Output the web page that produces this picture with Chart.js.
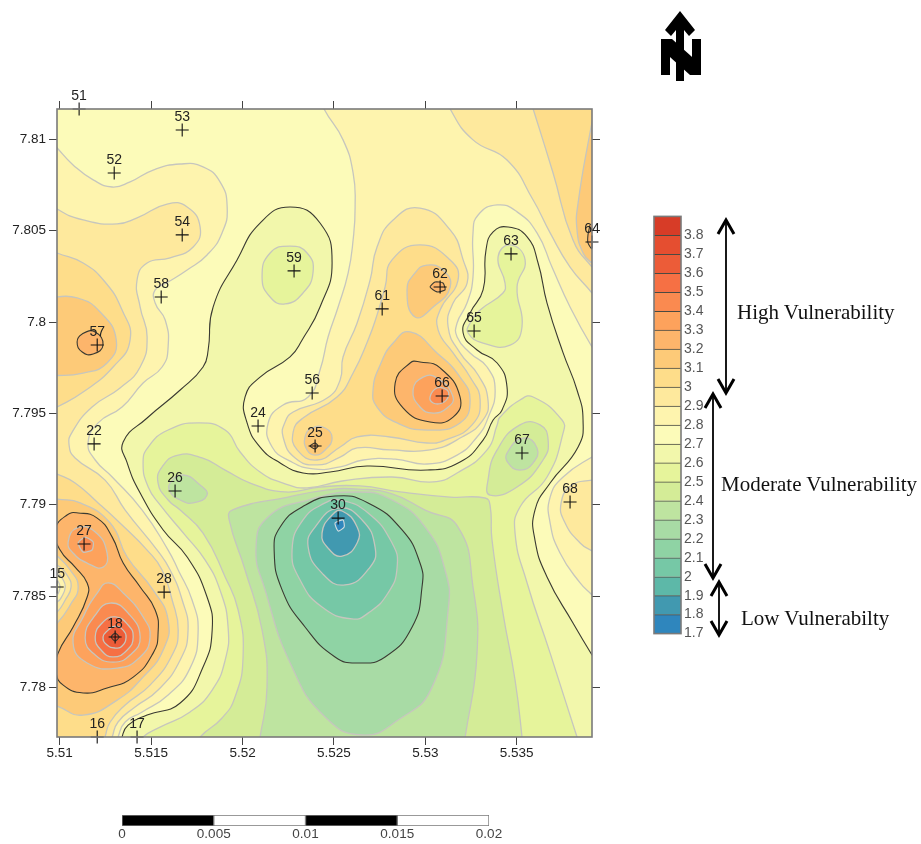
<!DOCTYPE html>
<html>
<head>
<meta charset="utf-8">
<title>Vulnerability map</title>
<script src="https://cdn.jsdelivr.net/npm/chart.js@4"></script>
<style>
  html, body { margin: 0; padding: 0; background: #fff; width: 921px; height: 844px; overflow: hidden; }
  canvas, svg { position: absolute; }
  .note { position: absolute; font: 21px "Liberation Serif", serif; color: #111; white-space: nowrap; line-height: 24px; }
</style>
</head>
<body>
<canvas id="mapa" width="921" height="844" style="left:0;top:0"></canvas>
<canvas id="leyenda" width="75" height="440" style="left:653px;top:205px"></canvas>
<canvas id="escala" width="420" height="36" style="left:100px;top:808px"></canvas>

<svg width="921" height="844" style="left:0;top:0">
  <g stroke="#000" fill="none">
    <line x1="726" y1="220" x2="726" y2="393" stroke-width="1.8"/>
    <polyline points="718,234 726,220 734,234" stroke-width="3"/>
    <polyline points="718,379 726,393 734,379" stroke-width="3"/>
    <line x1="713" y1="394" x2="713" y2="578" stroke-width="1.8"/>
    <polyline points="705,408 713,394 721,408" stroke-width="3"/>
    <polyline points="705,564 713,578 721,564" stroke-width="3"/>
    <line x1="719" y1="582" x2="719" y2="635" stroke-width="1.8"/>
    <polyline points="711,596 719,582 727,596" stroke-width="3"/>
    <polyline points="711,621 719,635 727,621" stroke-width="3"/>
  </g>
  <g fill="#000">
    <polygon points="661,39 670,39 670,75 661,75"/>
    <polygon points="692,39 701,39 701,75 692,75"/>
    <polygon points="661,39 672,39 701,65 701,75 690,75 661,49"/>
    <polygon points="680,11 695,30 689,36 684,30 684,81 676,81 676,30 671,36 665,30"/>
  </g>
</svg>
<div class="note" style="left:737px;top:300px">High Vulnerability</div>
<div class="note" style="left:721px;top:472px">Moderate Vulnerability</div>
<div class="note" style="left:741px;top:606px">Low Vulnerabilty</div>

<script>
// Ejes
const xTicks = [5.51, 5.515, 5.52, 5.525, 5.53, 5.535];
const yTicks = [7.78, 7.785, 7.79, 7.795, 7.8, 7.805, 7.81];

// Puntos de muestreo
const stationIds = ['51','52','53','54','56','57','58','59','61','62','63','64','65','66','67','68','22','24','25','26','27','28','30','15','16','17','18'];
const stationLon = [5.51106,5.51298,5.5167,5.5167,5.52381,5.51205,5.51555,5.52282,5.52764,5.53081,5.53469,5.53912,5.53267,5.53092,5.53529,5.53792,5.51188,5.52085,5.52397,5.51631,5.51133,5.51571,5.52523,5.50986,5.51205,5.51423,5.51303];
const stationLat = [7.81166,7.80816,7.81051,7.80477,7.79612,7.79874,7.80137,7.8028,7.80072,7.80192,7.80373,7.80438,7.79951,7.79595,7.79283,7.79015,7.79333,7.79431,7.79322,7.79075,7.78785,7.78522,7.78927,7.7855,7.77729,7.77729,7.78276];

// Leyenda: limite inferior de cada clase y su color
const legendLow = [1.7,1.8,1.9,2,2.1,2.2,2.3,2.4,2.5,2.6,2.7,2.8,2.9,3,3.1,3.2,3.3,3.4,3.5,3.6,3.7,3.8];
const legendColors = ['#2f86bd','#4199b0','#5db8a8','#76c8a6','#8fd3a4','#a8dba5','#bee4a0','#d4ec97','#e6f49b','#f2f7ab','#fcfbb9','#fef4ae','#fee99d','#fedd8a','#fdca78','#fdb56b','#fda25c','#fa8a50','#f67044','#ec5c38','#e54e30','#d73c27'];
const legendTicks = [1.7,1.8,1.9,2,2.1,2.2,2.3,2.4,2.5,2.6,2.7,2.8,2.9,3,3.1,3.2,3.3,3.4,3.5,3.6,3.7,3.8];

// Barra de escala
const scaleStops = [0, 0.005, 0.01, 0.015, 0.02];

const centerW1 = [[5.52435,7.81216],[5.52446,7.81166],[5.5255,7.80997],[5.52605,7.80816],[5.52616,7.8063],[5.52605,7.80449],[5.52578,7.80269],[5.52523,7.80082],[5.52468,7.79918],[5.52424,7.79738],[5.52359,7.7959],[5.52222,7.79546],[5.5214,7.79447],[5.52162,7.79316],[5.5226,7.79239],[5.52386,7.79196],[5.52534,7.79207],[5.5266,7.79245],[5.52835,7.7925],[5.5301,7.79223],[5.53174,7.79272],[5.53283,7.79371],[5.53343,7.79475],[5.53382,7.79628],[5.53338,7.79754],[5.53245,7.79831],[5.53174,7.79918],[5.53174,7.79995],[5.53228,7.80104],[5.53261,7.80247],[5.53261,7.80488],[5.53289,7.80586],[5.53393,7.80641],[5.53502,7.80603],[5.53611,7.80488],[5.53693,7.80301],[5.53792,7.80082],[5.53912,7.79864],[5.53983,7.79765],[5.53983,7.81216]];
const cornerW2 = [[5.53136,7.81216],[5.53136,7.81166],[5.53261,7.80997],[5.53447,7.80887],[5.5359,7.80668],[5.53683,7.80488],[5.53792,7.80301],[5.53912,7.80159],[5.53983,7.80066],[5.53983,7.81216]];
const cornerW3 = [[5.53573,7.81216],[5.5359,7.81166],[5.53699,7.80816],[5.53808,7.80449],[5.53912,7.80301],[5.53983,7.8023],[5.53983,7.81216]];
const cornerW4 = [[5.5394,7.81216],[5.53901,7.81035],[5.53836,7.80652],[5.5383,7.80504],[5.53863,7.80378],[5.53912,7.80323],[5.53983,7.80285],[5.53983,7.81216]];
const edge64 = [[5.53901,7.80531],[5.5389,7.80477],[5.5389,7.80433],[5.53912,7.804],[5.53956,7.80394],[5.53956,7.80531]];
const centerW2 = [[5.52971,7.80624],[5.53136,7.80504],[5.53207,7.8034],[5.53229,7.80214],[5.53152,7.80104],[5.53125,7.79973],[5.5319,7.79831],[5.53289,7.7971],[5.53343,7.79573],[5.53316,7.79464],[5.53201,7.79371],[5.53026,7.793],[5.52807,7.793],[5.52627,7.79311],[5.52534,7.79261],[5.52408,7.79218],[5.52288,7.79256],[5.52222,7.79371],[5.52233,7.79453],[5.52277,7.79508],[5.52463,7.79584],[5.52534,7.79683],[5.5255,7.79809],[5.52627,7.79995],[5.52698,7.8023],[5.52736,7.80411],[5.52824,7.80559],[5.52971,7.80624]];
const centerW3 = [[5.52971,7.80422],[5.53136,7.8034],[5.53179,7.8023],[5.53081,7.80066],[5.5307,7.79957],[5.53152,7.79831],[5.53245,7.79699],[5.533,7.79573],[5.53256,7.79437],[5.53108,7.79354],[5.5301,7.79338],[5.52807,7.79371],[5.52627,7.79371],[5.52534,7.79316],[5.52408,7.79245],[5.52299,7.793],[5.52277,7.79398],[5.52331,7.79475],[5.52517,7.7959],[5.52605,7.79721],[5.52687,7.79902],[5.52736,7.80039],[5.5278,7.80192],[5.52818,7.8034],[5.52971,7.80422]];
const loop66W4 = [[5.52917,7.79946],[5.53064,7.79831],[5.5319,7.79699],[5.53245,7.79573],[5.5319,7.79448],[5.5301,7.79409],[5.52846,7.79448],[5.52736,7.79535],[5.52714,7.79628],[5.52753,7.79765],[5.52824,7.79885],[5.52917,7.79946]];
const loop62W4 = [[5.529,7.80176],[5.52944,7.80028],[5.53043,7.80082],[5.53136,7.80192],[5.53097,7.80285],[5.5301,7.80312],[5.52944,7.80269],[5.529,7.80176]];
const loop25W4 = [[5.52342,7.79371],[5.52381,7.7942],[5.52452,7.7942],[5.5249,7.79365],[5.52452,7.793],[5.52397,7.79272],[5.52353,7.793],[5.52342,7.79371]];
const loop66W5 = [[5.52835,7.79666],[5.52917,7.79776],[5.52971,7.79781],[5.53081,7.79749],[5.5319,7.7959],[5.53152,7.7948],[5.53026,7.79453],[5.52878,7.7953],[5.52835,7.79666]];
const loop66W6 = [[5.52933,7.79628],[5.52988,7.79699],[5.53064,7.79694],[5.53152,7.7959],[5.53119,7.7953],[5.53043,7.79502],[5.52971,7.79535],[5.52933,7.79628]];
const loop66W7 = [[5.53026,7.7959],[5.53064,7.79639],[5.53119,7.79628],[5.53125,7.7959],[5.53092,7.79557],[5.53043,7.79557],[5.53026,7.7959]];
const loop62W5 = [[5.53026,7.80192],[5.53053,7.80219],[5.53097,7.80214],[5.53108,7.80176],[5.53064,7.80165],[5.53026,7.80192]];
const loop25W5 = [[5.5237,7.79322],[5.52397,7.79338],[5.52413,7.79322],[5.52397,7.79305],[5.5237,7.79322]];
const pocket68W1 = [[5.53983,7.79289],[5.53912,7.79261],[5.53754,7.79152],[5.53683,7.79042],[5.53683,7.789],[5.53737,7.78736],[5.53847,7.78572],[5.53912,7.78506],[5.53983,7.78424]];
const pocket68W2 = [[5.53983,7.79146],[5.53912,7.79135],[5.53803,7.79108],[5.53743,7.7901],[5.53765,7.789],[5.53847,7.78791],[5.53912,7.78747],[5.53983,7.78708]];
const leftW1 = [[5.50948,7.80997],[5.50986,7.80953],[5.51073,7.8086],[5.51183,7.80778],[5.51287,7.80739],[5.51385,7.80767],[5.51511,7.80832],[5.51659,7.80865],[5.51784,7.80849],[5.51877,7.80767],[5.51916,7.8063],[5.51888,7.80488],[5.51806,7.80367],[5.51697,7.80285],[5.51593,7.80219],[5.51522,7.80176],[5.51522,7.80104],[5.51577,7.80011],[5.51593,7.79864],[5.5156,7.79754],[5.51456,7.79666],[5.51341,7.79535],[5.5121,7.79448],[5.51155,7.79338],[5.51194,7.79245],[5.51287,7.79152],[5.51451,7.78971],[5.51593,7.78752],[5.51648,7.78643],[5.51724,7.78479],[5.51757,7.78303],[5.51713,7.78106],[5.51593,7.77959],[5.51451,7.77866],[5.51358,7.77811],[5.51319,7.77729],[5.51309,7.77685],[5.50948,7.77685]];
const leftW2 = [[5.50948,7.80668],[5.50986,7.80619],[5.51128,7.80559],[5.51314,7.80537],[5.51423,7.8057],[5.51587,7.80646],[5.51697,7.8063],[5.51768,7.8052],[5.5173,7.80411],[5.51604,7.80351],[5.51478,7.80323],[5.51423,7.8023],[5.5144,7.80082],[5.51478,7.79918],[5.5144,7.79754],[5.5133,7.79639],[5.51177,7.79535],[5.51068,7.79398],[5.51051,7.79327],[5.51084,7.79256],[5.51248,7.79135],[5.51358,7.78971],[5.51533,7.78752],[5.51604,7.78643],[5.5167,7.78479],[5.51702,7.78314],[5.51659,7.7815],[5.51538,7.77986],[5.51412,7.77893],[5.51319,7.77811],[5.51287,7.77729],[5.51276,7.77685],[5.50948,7.77685]];
const upperW3 = [[5.50948,7.80394],[5.50986,7.80378],[5.51128,7.80323],[5.51248,7.80219],[5.51341,7.80066],[5.51385,7.79902],[5.51292,7.79754],[5.51128,7.79617],[5.50986,7.79535],[5.50948,7.79519]];
const upperW4 = [[5.50948,7.80137],[5.51095,7.80132],[5.51221,7.80055],[5.51309,7.79902],[5.51259,7.79776],[5.51128,7.79721],[5.50948,7.79705]];
const loop57W5 = [[5.51095,7.79891],[5.51123,7.79935],[5.51194,7.79946],[5.51237,7.79874],[5.51183,7.79825],[5.51123,7.79836],[5.51095,7.79891]];
const lowerW3 = [[5.50948,7.79179],[5.50986,7.79168],[5.51084,7.79119],[5.5121,7.7901],[5.51341,7.78889],[5.51478,7.78752],[5.5156,7.78643],[5.51615,7.78479],[5.51648,7.78314],[5.51615,7.78178],[5.51494,7.78013],[5.51358,7.77904],[5.51276,7.77811],[5.51248,7.77729],[5.51237,7.77685],[5.50948,7.77685]];
const lowerW4 = [[5.50948,7.79037],[5.50986,7.79031],[5.51112,7.7901],[5.51276,7.789],[5.51369,7.78714],[5.51511,7.78533],[5.51593,7.78369],[5.51566,7.78205],[5.51456,7.78057],[5.51314,7.77931],[5.51128,7.77849],[5.50986,7.77898],[5.50948,7.77915]];
const lowerW5 = [[5.50975,7.78862],[5.5104,7.78944],[5.51101,7.78955],[5.51205,7.78927],[5.51287,7.78823],[5.51347,7.78681],[5.5144,7.7855],[5.51522,7.78424],[5.51538,7.78298],[5.51511,7.78188],[5.51402,7.78057],[5.51259,7.77997],[5.51128,7.7797],[5.51019,7.78013],[5.5098,7.78084],[5.50991,7.78188],[5.51073,7.78331],[5.5115,7.78495],[5.5115,7.78572],[5.51084,7.78659],[5.51002,7.78752],[5.50975,7.78862]];
const arc15a = [[5.50948,7.78736],[5.50986,7.78719],[5.51057,7.78643],[5.51101,7.7855],[5.51057,7.78451],[5.50986,7.78353],[5.50948,7.78336]];
const arc15b = [[5.50948,7.78681],[5.50986,7.7867],[5.5104,7.78615],[5.51062,7.7855],[5.5103,7.78479],[5.50986,7.78413],[5.50948,7.78396]];
const arc15c = [[5.50948,7.78632],[5.50986,7.78626],[5.51019,7.78588],[5.5103,7.7855],[5.51013,7.78501],[5.50986,7.78468],[5.50948,7.78462]];
const arc15d = [[5.50948,7.78588],[5.50986,7.78588],[5.51002,7.7855],[5.50986,7.78506],[5.50948,7.78506]];
const loop27W6 = [[5.51046,7.78796],[5.51095,7.78873],[5.51194,7.78851],[5.51259,7.78736],[5.51237,7.78659],[5.5115,7.78681],[5.51073,7.78736],[5.51046,7.78796]];
const loop27W7 = [[5.51101,7.78791],[5.51139,7.78823],[5.51183,7.78796],[5.51177,7.78752],[5.51128,7.78741],[5.51101,7.78791]];
const loop18W6 = [[5.51265,7.78572],[5.51347,7.78517],[5.51456,7.78386],[5.51494,7.78276],[5.5144,7.78167],[5.51314,7.78106],[5.5115,7.78134],[5.51073,7.78243],[5.51128,7.78386],[5.51205,7.78517],[5.51265,7.78572]];
const loop18W7 = [[5.51276,7.78462],[5.51374,7.78407],[5.5144,7.78276],[5.51385,7.78178],[5.51292,7.78139],[5.51194,7.78178],[5.51139,7.78271],[5.51194,7.78396],[5.51276,7.78462]];
const loop18W8 = [[5.51303,7.78386],[5.51374,7.78342],[5.51402,7.78276],[5.51369,7.78205],[5.51292,7.78167],[5.51226,7.78205],[5.51194,7.78276],[5.51232,7.78353],[5.51303,7.78386]];
const loop18W9 = [[5.51303,7.78336],[5.51347,7.78314],[5.51363,7.78276],[5.51341,7.78227],[5.51303,7.78216],[5.51259,7.78232],[5.51237,7.78276],[5.51265,7.78314],[5.51303,7.78336]];
const loop18Core = [[5.51281,7.78276],[5.51303,7.78298],[5.51325,7.78276],[5.51303,7.78254],[5.51281,7.78276]];
const mainG1 = [[5.51341,7.77685],[5.51341,7.77729],[5.51374,7.77794],[5.51478,7.77849],[5.51659,7.77915],[5.51784,7.78112],[5.51834,7.78314],[5.51806,7.78495],[5.51697,7.78714],[5.51566,7.78862],[5.5144,7.79064],[5.51369,7.79229],[5.51347,7.79343],[5.51478,7.79475],[5.51659,7.79628],[5.51784,7.79754],[5.51812,7.79847],[5.51839,7.80082],[5.5197,7.8034],[5.52096,7.80542],[5.5226,7.8063],[5.52424,7.80542],[5.5249,7.80323],[5.52424,7.80082],[5.52326,7.79902],[5.5226,7.79809],[5.52096,7.79699],[5.52014,7.7959],[5.52025,7.79448],[5.52096,7.79316],[5.52206,7.79229],[5.52331,7.79174],[5.52479,7.79179],[5.52681,7.79212],[5.5301,7.7919],[5.5319,7.79234],[5.53316,7.79354],[5.53371,7.79464],[5.5342,7.79519],[5.53447,7.79645],[5.53393,7.79776],[5.53283,7.79847],[5.53207,7.7994],[5.53245,7.8005],[5.53316,7.80176],[5.53332,7.80394],[5.53371,7.80493],[5.53453,7.8052],[5.53557,7.80466],[5.53617,7.80323],[5.53666,7.80104],[5.53754,7.79831],[5.5383,7.79628],[5.53863,7.79464],[5.53836,7.79316],[5.53683,7.79119],[5.536,7.78971],[5.536,7.78807],[5.53666,7.78605],[5.53808,7.78353],[5.53912,7.78178],[5.53983,7.78068],[5.53983,7.77685]];
const loop59G2 = [[5.5226,7.80416],[5.52151,7.80378],[5.52107,7.80247],[5.52151,7.80137],[5.52233,7.80099],[5.52331,7.80159],[5.52386,7.80274],[5.52353,7.80378],[5.5226,7.80416]];
const loop63G2 = [[5.53234,7.7994],[5.53245,7.79995],[5.533,7.80066],[5.53425,7.80159],[5.53436,7.80214],[5.53398,7.80356],[5.53464,7.80422],[5.53546,7.8034],[5.53502,7.80192],[5.53529,7.79973],[5.53464,7.79874],[5.53316,7.79885],[5.53234,7.7994]];
const mainG2 = [[5.5144,7.77685],[5.51456,7.77729],[5.51549,7.77783],[5.51713,7.77866],[5.51834,7.77986],[5.51905,7.7815],[5.51921,7.78331],[5.51877,7.78533],[5.51795,7.78698],[5.51686,7.78834],[5.51549,7.78999],[5.51484,7.79097],[5.51456,7.79229],[5.51484,7.79316],[5.51593,7.79409],[5.51757,7.79448],[5.51905,7.79409],[5.51987,7.79289],[5.52096,7.79179],[5.52222,7.79119],[5.52353,7.79092],[5.52545,7.7913],[5.52818,7.79152],[5.53043,7.79125],[5.53174,7.79174],[5.53338,7.793],[5.53393,7.79437],[5.53409,7.7948],[5.53518,7.79573],[5.5359,7.7959],[5.53748,7.79464],[5.53754,7.79393],[5.53666,7.79152],[5.53518,7.78988],[5.53491,7.78845],[5.53557,7.78572],[5.53683,7.78188],[5.5383,7.77729],[5.53847,7.77685]];
const mainG3 = [[5.51752,7.77685],[5.51768,7.77729],[5.51888,7.77833],[5.51959,7.77948],[5.52003,7.78167],[5.51976,7.78424],[5.51905,7.78605],[5.51784,7.78845],[5.51659,7.78971],[5.51593,7.79026],[5.51538,7.79119],[5.5156,7.79207],[5.51648,7.79272],[5.51779,7.79256],[5.51905,7.7919],[5.52042,7.79119],[5.52233,7.7907],[5.52424,7.79097],[5.52643,7.79103],[5.52862,7.7907],[5.53136,7.79042],[5.53327,7.79037],[5.53354,7.78999],[5.53365,7.78807],[5.53425,7.78407],[5.53491,7.78041],[5.53529,7.77729],[5.53529,7.77685]];
const loop67G3 = [[5.53354,7.79053],[5.53343,7.79135],[5.53393,7.793],[5.53518,7.79437],[5.53628,7.79437],[5.53672,7.79354],[5.53644,7.79245],[5.53502,7.79097],[5.53354,7.79053]];
const loop67G4 = [[5.53447,7.79283],[5.53535,7.79365],[5.53611,7.79311],[5.5359,7.79229],[5.53518,7.7919],[5.53453,7.79229],[5.53447,7.79283]];
const loop26G4 = [[5.51604,7.79119],[5.51675,7.79163],[5.51768,7.79108],[5.51806,7.79053],[5.5173,7.7901],[5.51659,7.79026],[5.51604,7.7907],[5.51604,7.79119]];
const mainG4 = [[5.52085,7.77685],[5.52096,7.77729],[5.52134,7.78002],[5.52107,7.78314],[5.52014,7.78643],[5.51927,7.78917],[5.51943,7.78971],[5.52249,7.79042],[5.52468,7.79081],[5.52632,7.79086],[5.52818,7.79059],[5.52999,7.78971],[5.53179,7.78878],[5.53261,7.7855],[5.53283,7.78188],[5.53218,7.77729],[5.53207,7.77685]];
const loopG5 = [[5.52074,7.78769],[5.5214,7.78933],[5.52359,7.79026],[5.52632,7.7907],[5.52818,7.79026],[5.52999,7.78878],[5.53108,7.78643],[5.53125,7.78424],[5.53037,7.78002],[5.52851,7.77822],[5.52654,7.7774],[5.52452,7.77838],[5.52271,7.78112],[5.52124,7.78533],[5.52074,7.78769]];
const loopG6 = [[5.52173,7.78752],[5.52206,7.78878],[5.52326,7.78988],[5.52506,7.79048],[5.52687,7.7901],[5.52873,7.78862],[5.52971,7.78681],[5.52982,7.7855],[5.52928,7.78331],[5.5278,7.78167],[5.52632,7.78134],[5.52506,7.78167],[5.52342,7.78331],[5.52217,7.78533],[5.52173,7.78752]];
const loopG7 = [[5.52271,7.78752],[5.52331,7.78917],[5.52452,7.7901],[5.52534,7.79026],[5.52687,7.78955],[5.52818,7.78791],[5.52846,7.78659],[5.52796,7.78517],[5.52687,7.78407],[5.52599,7.78375],[5.52435,7.7844],[5.52315,7.78588],[5.52271,7.78752]];
const loopG8 = [[5.52359,7.78769],[5.52397,7.78878],[5.52523,7.78982],[5.52654,7.78917],[5.52725,7.78769],[5.52698,7.78659],[5.52561,7.78561],[5.52435,7.78626],[5.52359,7.78769]];
const loopG9 = [[5.52435,7.78845],[5.5249,7.78944],[5.52545,7.78966],[5.52627,7.78878],[5.52627,7.78791],[5.52545,7.78719],[5.52468,7.78763],[5.52435,7.78845]];
const loopG10 = [[5.52506,7.789],[5.5255,7.78917],[5.52556,7.78878],[5.52523,7.78856],[5.52506,7.789]];

const GRIS = '#c6c6be', NEGRO = '#3a3a32';
const col = v => legendColors[legendLow.indexOf(v)];

// orden de pintado: primero lo de abajo
const capas = [
  [centerW1, col(2.8), GRIS], [cornerW2, col(2.9), GRIS], [cornerW3, col(3), GRIS], [cornerW4, col(3.1), GRIS], [edge64, col(3.2), NEGRO],
  [centerW2, col(2.9), GRIS], [centerW3, col(3), GRIS], [loop66W4, col(3.1), GRIS], [loop62W4, col(3.1), GRIS], [loop25W4, col(3.1), GRIS],
  [loop66W5, col(3.2), NEGRO], [loop66W6, col(3.3), GRIS], [loop66W7, col(3.4), GRIS], [loop62W5, col(3.2), NEGRO], [loop25W5, col(3.2), NEGRO],
  [pocket68W1, col(2.8), GRIS], [pocket68W2, col(2.9), GRIS],
  [leftW1, col(2.8), GRIS], [leftW2, col(2.9), GRIS], [upperW3, col(3), GRIS], [upperW4, col(3.1), GRIS], [loop57W5, col(3.2), NEGRO],
  [lowerW3, col(3), GRIS], [lowerW4, col(3.1), GRIS], [lowerW5, col(3.2), NEGRO],
  [arc15a, col(3), GRIS], [arc15b, col(2.9), GRIS], [arc15c, col(2.8), GRIS], [arc15d, col(2.7), GRIS],
  [loop27W6, col(3.3), GRIS], [loop27W7, col(3.4), GRIS],
  [loop18W6, col(3.3), GRIS], [loop18W7, col(3.4), GRIS], [loop18W8, col(3.5), GRIS], [loop18W9, col(3.6), GRIS], [loop18Core, col(3.7), NEGRO],
  [mainG1, col(2.6), NEGRO], [loop59G2, col(2.5), GRIS], [loop63G2, col(2.5), GRIS], [mainG2, col(2.5), GRIS], [mainG3, col(2.4), GRIS],
  [loop67G3, col(2.4), GRIS], [loop67G4, col(2.3), GRIS], [loop26G4, col(2.3), GRIS], [mainG4, col(2.3), GRIS],
  [loopG5, col(2.2), GRIS], [loopG6, col(2.1), NEGRO], [loopG7, col(2), GRIS], [loopG8, col(1.9), GRIS], [loopG9, col(1.8), GRIS], [loopG10, col(1.7), '#d5dfe0']
];

const esAnillo = pts => {
  const a = pts[0], b = pts[pts.length - 1];
  return a[0] === b[0] && a[1] === b[1];
};

const datasets = capas.map(([pts, fondo, linea], i) => ({
  type: 'scatter',
  // en los anillos el ultimo punto repite el primero, el cierre lo hace la linea
  data: (esAnillo(pts) ? pts.slice(0, -1) : pts).map(([x, y]) => ({ x, y })),
  showLine: true,
  fill: 'shape',
  tension: pts.length < 7 ? 0.2 : 0.5,
  capBezierPoints: false,
  backgroundColor: fondo,
  borderColor: linea,
  borderWidth: linea === GRIS ? 1.3 : 1.1,
  pointRadius: 0,
  order: capas.length - i + 1
}));

datasets.push({
  type: 'scatter',
  data: stationLon.map((x, i) => ({ x, y: stationLat[i] })),
  pointStyle: 'cross',
  pointRadius: 6.5,
  pointBorderWidth: 1.1,
  pointBorderColor: '#111',
  showLine: false,
  clip: false,
  order: 0
});

// cierra las curvas igual que hace el radar
const cerrarAnillos = {
  id: 'cerrarAnillos',
  beforeDatasetsUpdate(chart) {
    capas.forEach(([pts], i) => {
      if (!esAnillo(pts)) return;
      const linea = chart.getDatasetMeta(i).dataset;
      if (linea) { linea._loop = true; linea._fullLoop = true; }
    });
  }
};

const fondoMapa = {
  id: 'fondoMapa',
  beforeDatasetsDraw(chart) {
    const a = chart.chartArea;
    chart.ctx.fillStyle = col(2.7);
    chart.ctx.fillRect(a.left, a.top, a.width, a.height);
  }
};

// marco gris encima de las capas
const marco = {
  id: 'marco',
  afterDatasetsDraw(chart) {
    const a = chart.chartArea, ctx = chart.ctx;
    ctx.save();
    ctx.strokeStyle = '#7a7a7a';
    ctx.lineWidth = 1.6;
    ctx.strokeRect(a.left, a.top, a.width, a.height);
    ctx.restore();
  }
};

const etiquetas = {
  id: 'etiquetas',
  afterDatasetsDraw(chart) {
    const { ctx, scales } = chart;
    ctx.save();
    ctx.font = '14px "Liberation Sans", Arial, sans-serif';
    ctx.fillStyle = '#222';
    ctx.textAlign = 'center';
    ctx.textBaseline = 'bottom';
    stationIds.forEach((id, i) => {
      ctx.fillText(id, scales.x.getPixelForValue(stationLon[i]), scales.y.getPixelForValue(stationLat[i]) - 6);
    });
    ctx.restore();
  }
};

const fuenteEje = { family: '"Liberation Sans", Arial, sans-serif', size: 13.5 };
const marcas = { drawOnChartArea: false, drawTicks: true, tickLength: 8, color: '#444', lineWidth: 1 };
const borde = { display: false };

new Chart(document.getElementById('mapa'), {
  type: 'scatter',
  data: { datasets },
  plugins: [cerrarAnillos, fondoMapa, marco, etiquetas],
  options: {
    responsive: false,
    animation: false,
    layout: { padding: 0 },
    plugins: { legend: { display: false }, tooltip: { enabled: false } },
    scales: {
      x: {
        type: 'linear', position: 'bottom', min: 5.50985, max: 5.53912,
        grid: marcas, border: borde,
        afterBuildTicks: s => { s.ticks = xTicks.map(value => ({ value })); },
        afterFit: s => { s.height = 107; },
        ticks: { color: '#222', font: fuenteEje, padding: 0, autoSkip: false, maxRotation: 0, callback: v => String(v) }
      },
      xTop: {
        type: 'linear', axis: 'x', position: 'top', min: 5.50985, max: 5.53912,
        grid: marcas, border: borde,
        afterBuildTicks: s => { s.ticks = xTicks.map(value => ({ value })); },
        afterFit: s => { s.height = 109; },
        ticks: { display: false }
      },
      y: {
        type: 'linear', position: 'left', min: 7.77729, max: 7.81166,
        grid: marcas, border: borde,
        afterBuildTicks: s => { s.ticks = yTicks.map(value => ({ value })); },
        afterFit: s => { s.width = 57; },
        ticks: { color: '#222', font: fuenteEje, padding: 3, autoSkip: false, callback: v => String(v) }
      },
      yRight: {
        type: 'linear', axis: 'y', position: 'right', min: 7.77729, max: 7.81166,
        grid: marcas, border: borde,
        afterBuildTicks: s => { s.ticks = yTicks.map(value => ({ value })); },
        afterFit: s => { s.width = 329; },
        ticks: { display: false }
      }
    }
  }
});

// Leyenda de clases
new Chart(document.getElementById('leyenda'), {
  type: 'bar',
  data: {
    labels: ['clase'],
    datasets: legendLow.map((lo, i) => ({
      data: [[lo, lo + 0.1]],
      backgroundColor: legendColors[i],
      borderColor: '#4a4a42',
      borderWidth: { top: 1, bottom: 0, left: 0, right: 0 },
      borderSkipped: false,
      grouped: false,
      barPercentage: 1,
      categoryPercentage: 1
    }))
  },
  plugins: [marco],
  options: {
    responsive: false,
    animation: false,
    layout: { padding: { top: 10, bottom: 10, left: 1 } },
    plugins: { legend: { display: false }, tooltip: { enabled: false } },
    scales: {
      x: { display: false },
      y: {
        position: 'right', min: 1.7, max: 3.9,
        grid: { display: false, drawTicks: false },
        border: { display: false },
        afterBuildTicks: s => { s.ticks = legendTicks.map(value => ({ value })); },
        afterFit: s => { s.width = 47; },
        ticks: { color: '#555', font: { family: '"Liberation Sans", Arial, sans-serif', size: 14 }, padding: 3, autoSkip: false, callback: v => String(v) }
      }
    }
  }
});

// Barra de escala
new Chart(document.getElementById('escala'), {
  type: 'bar',
  data: {
    labels: ['escala'],
    datasets: scaleStops.slice(0, -1).map((lo, i) => ({
      data: [[lo, scaleStops[i + 1]]],
      backgroundColor: i % 2 ? '#fff' : '#000',
      borderColor: '#777',
      borderWidth: 1,
      borderSkipped: false,
      grouped: false,
      barPercentage: 1,
      categoryPercentage: 1
    }))
  },
  options: {
    indexAxis: 'y',
    responsive: false,
    animation: false,
    layout: { padding: { left: 22, right: 31, top: 7 } },
    plugins: { legend: { display: false }, tooltip: { enabled: false } },
    scales: {
      y: { display: false },
      x: {
        min: 0, max: 0.02,
        grid: { display: false, drawTicks: false },
        border: { display: false },
        afterBuildTicks: s => { s.ticks = scaleStops.map(value => ({ value })); },
        afterFit: s => { s.height = 18; },
        ticks: { color: '#444', font: fuenteEje, padding: 0, autoSkip: false, maxRotation: 0, callback: v => String(v) }
      }
    }
  }
});
</script>
</body>
</html>
